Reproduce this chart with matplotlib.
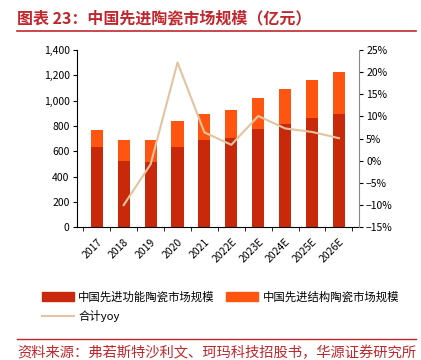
import numpy as np
import matplotlib; matplotlib.use('Agg')
import matplotlib.pyplot as plt
from matplotlib.patches import Patch
from matplotlib.lines import Line2D

plt.rcParams['font.family'] = ['Noto Sans CJK SC', 'DejaVu Sans']

years = ['2017', '2018', '2019', '2020', '2021', '2022E', '2023E', '2024E', '2025E', '2026E']
func = [634, 523, 518, 634, 692, 708, 774, 819, 866, 898]
total = [766, 692, 687, 840, 893, 924, 1020, 1093, 1165, 1223]
struct = [t - f for t, f in zip(total, func)]
yoy = [None, -10.0, -0.8, 22.2, 6.4, 3.6, 10.1, 7.3, 6.5, 5.1]

c_func, c_struct, c_line, c_red = '#C8290B', '#FF5511', '#E2C49E', '#C0272D'

fig = plt.figure(figsize=(4.21, 3.6), dpi=100)
ax = fig.add_axes([0.182, 0.369, 0.671, 0.492])
x = np.arange(len(years))
ax.bar(x, func, 0.45, color=c_func)
ax.bar(x, struct, 0.45, bottom=func, color=c_struct)
ax.set_xlim(-0.75, len(years) - 0.25)
ax.set_ylim(0, 1400)
ax.set_yticks(range(0, 1401, 200))
ax.set_yticklabels([f'{v:,}' for v in range(0, 1401, 200)], fontsize=7.5)
ax.set_xticks(x)
ax.set_xticklabels(years, rotation=45, fontsize=7.5, ha='right', rotation_mode='anchor')
ax.set_xticks(np.arange(-0.5, len(years), 1), minor=True)
ax.tick_params(axis='x', which='major', length=0, pad=7)
ax.tick_params(axis='x', which='minor', length=3, direction='out')
ax.tick_params(axis='y', length=3, direction='out', pad=2)
for s in ['top', 'right']:
    ax.spines[s].set_visible(False)

ax2 = ax.twinx()
xs = [i for i, v in enumerate(yoy) if v is not None]
ys = [v for v in yoy if v is not None]
ax2.plot(xs, ys, color=c_line, lw=1.5)
ax2.set_ylim(-15, 25)
ax2.set_yticks(range(-15, 26, 5))
ax2.set_yticklabels([f'{v}%'.replace('-', '−') for v in range(-15, 26, 5)], fontsize=7.5)
ax2.tick_params(axis='y', length=3, direction='out', pad=2)
for s in ['top', 'left', 'bottom']:
    ax2.spines[s].set_visible(False)
ax2.spines['right'].set_color('#888888')

# column-major fill: col1 = func, yoy; col2 = struct
handles = [Patch(color=c_func), Line2D([], [], color=c_line, lw=1.5), Patch(color=c_struct)]
labels = ['中国先进功能陶瓷市场规模', '合计yoy', '中国先进结构陶瓷市场规模']
fig.legend(handles, labels, loc='upper left', bbox_to_anchor=(0.075, 0.22), ncol=2,
           frameon=False, fontsize=8.2, handlelength=2.8, handleheight=0.8,
           columnspacing=1.0, handletextpad=0.4, labelspacing=0.7)

fig.text(0.04, 0.948, '图表 23：中国先进陶瓷市场规模（亿元）', color=c_red, fontsize=11.5,
         fontweight='bold', va='center')
fig.add_artist(Line2D([0.04, 0.988], [0.915, 0.915], color=c_red, lw=1.2))
fig.add_artist(Line2D([0.04, 0.988], [0.058, 0.058], color=c_red, lw=1.0))
fig.text(0.04, 0.02, '资料来源：弗若斯特沙利文、珂玛科技招股书，华源证券研究所', color=c_red,
         fontsize=10.3, va='center')

fig.savefig('out.png', dpi=100)
